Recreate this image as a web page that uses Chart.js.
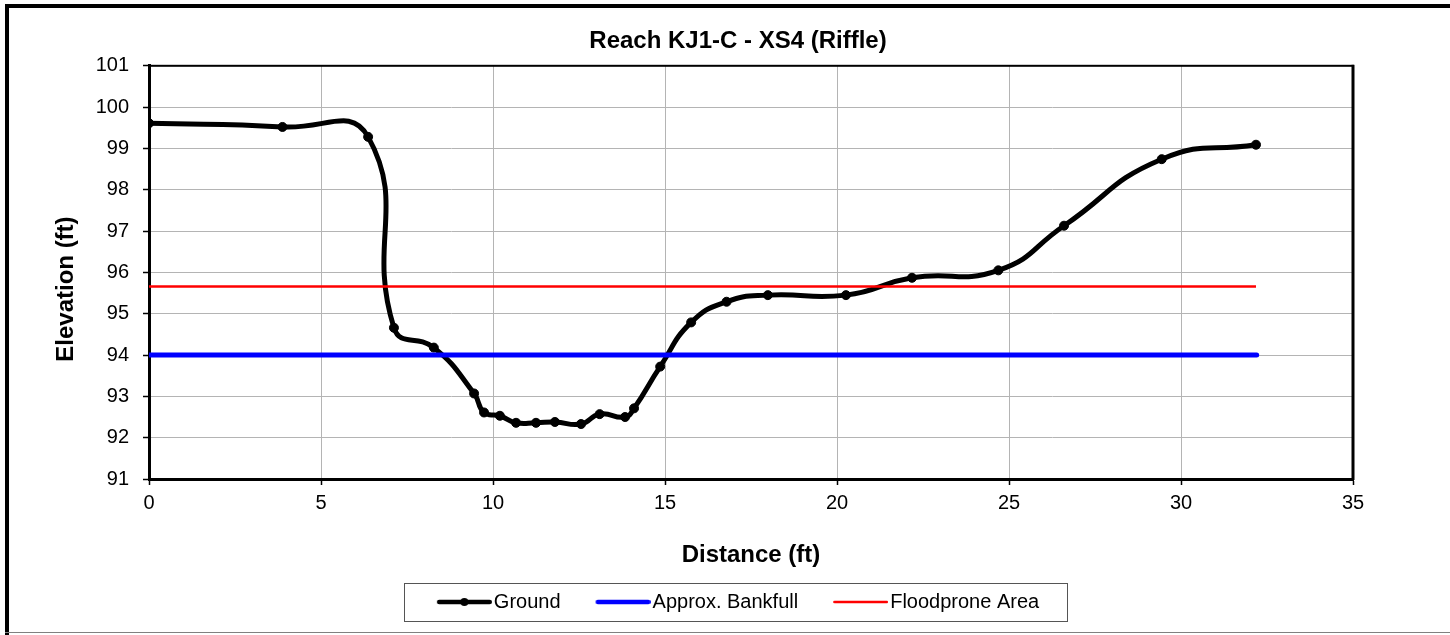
<!DOCTYPE html>
<html>
<head>
<meta charset="utf-8">
<script src="https://cdn.jsdelivr.net/npm/chart.js@4.4.1/dist/chart.umd.min.js"></script>
<style>
  html, body { margin: 0; padding: 0; background: #ffffff; }
  #wrap { width: 1450px; height: 635px; position: relative; }
</style>
</head>
<body>
<div id="wrap"><canvas id="c" width="1450" height="635"></canvas></div>
<script>
// ---- data ----
const distance  = [0, 3.88, 6.37, 7.12, 8.28, 9.45, 9.74, 10.2, 10.67, 11.25, 11.8, 12.56, 13.1, 13.84, 14.1, 14.86, 15.76, 16.79, 17.99, 20.26, 22.18, 24.69, 26.6, 29.44, 32.18];
const elevation = [99.61, 99.52, 99.28, 94.66, 94.18, 93.07, 92.61, 92.53, 92.36, 92.36, 92.38, 92.33, 92.57, 92.5, 92.71, 93.72, 94.79, 95.29, 95.45, 95.45, 95.87, 96.05, 97.13, 98.74, 99.09];
const bankfullX  = [0, 32.2];
const bankfullY  = [94.0, 94.0];
const floodX     = [0, 32.18];
const floodY     = [95.66, 95.66];
const seriesNames = ['Ground', 'Approx. Bankfull', 'Floodprone Area'];
const xTicks = {min: 0, max: 35, step: 5};
const yTicks = {min: 91, max: 101, step: 1};
const chartTitle = 'Reach KJ1-C - XS4 (Riffle)';
const xTitle = 'Distance (ft)';
const yTitle = 'Elevation (ft)';

const FONT = '"Liberation Sans", Arial, Helvetica, sans-serif';
Chart.defaults.font.family = FONT;
Chart.defaults.color = '#000';

const pts = (xs, ys) => xs.map((x, i) => ({x: x, y: ys[i]}));

// legend marker images
function makeIcon(color, lw, dot) {
  const W = 63, M = 55, H = 14;
  const c = document.createElement('canvas');
  c.width = W; c.height = H;
  const g = c.getContext('2d');
  g.strokeStyle = color; g.lineWidth = lw; g.lineCap = 'round';
  g.beginPath(); g.moveTo(W - M + lw / 2, H / 2); g.lineTo(W - lw / 2, H / 2); g.stroke();
  if (dot) {
    g.fillStyle = color;
    g.beginPath(); g.arc(W - M / 2, H / 2, 4, 0, Math.PI * 2); g.fill();
  }
  return c;
}
const icons = [makeIcon('#000000', 4.5, true), makeIcon('#0000ff', 4.5, false), makeIcon('#ff0000', 2.5, false)];

const decorPlugin = {
  id: 'decor',
  beforeDatasetsDraw(chart) {
    const {ctx, chartArea: a} = chart;
    ctx.save();
    ctx.fillStyle = '#000';
    ctx.fillRect(a.left - 1, a.top - 1, a.right - a.left + 2, 2);
    ctx.fillRect(a.right - 1.5, a.top - 1, 3, a.bottom - a.top + 2);
    ctx.restore();
  },
  afterDraw(chart) {
    const ctx = chart.ctx;
    const hb = chart.legend.legendHitBoxes;
    ctx.save();
    if (hb && hb.length) {
      const first = hb[0], last = hb[hb.length - 1];
      const cy = first.top + first.height / 2;
      const l = Math.round(first.left - 33) + 0.5;
      const r = Math.round(last.left + last.width + 28) + 0.5;
      ctx.strokeStyle = '#555555'; ctx.lineWidth = 1;
      ctx.strokeRect(l, Math.round(cy - 19) + 0.5, r - l, 38);
    }
    // outer frame
    ctx.fillStyle = '#000';
    ctx.fillRect(5, 4, 1445, 4);
    ctx.fillRect(5, 4, 4, 631);
    ctx.fillStyle = '#808080';
    ctx.fillRect(5, 632, 1445, 1);
    ctx.restore();
  }
};

const gridCommon = {color: '#b4b4b4', lineWidth: 1, tickLength: 6, tickColor: '#000', tickWidth: 1.5, drawTicks: true};

new Chart(document.getElementById('c'), {
  type: 'scatter',
  data: {
    datasets: [
      {
        label: seriesNames[0], data: pts(distance, elevation), showLine: true,
        borderColor: '#000', backgroundColor: '#000', borderWidth: 5,
        pointRadius: 4.5, pointHoverRadius: 4.5, pointBackgroundColor: '#000', pointBorderColor: '#000', pointBorderWidth: 1,
        tension: 0.5, order: 3
      },
      {
        label: seriesNames[1], data: pts(bankfullX, bankfullY), showLine: true,
        borderColor: '#0000ff', backgroundColor: '#0000ff', borderWidth: 5, borderCapStyle: 'round',
        pointRadius: 0, pointHoverRadius: 0, order: 2
      },
      {
        label: seriesNames[2], data: pts(floodX, floodY), showLine: true,
        borderColor: '#ff0000', backgroundColor: '#ff0000', borderWidth: 2.5,
        pointRadius: 0, pointHoverRadius: 0, order: 1
      }
    ]
  },
  options: {
    responsive: false,
    animation: false,
    events: [],
    layout: {padding: {left: 26, right: 0, top: 0, bottom: 13}},
    plugins: {
      tooltip: {enabled: false},
      title: {
        display: true, text: chartTitle, color: '#000',
        font: {family: FONT, size: 24, weight: 'bold', lineHeight: 1.2},
        padding: {top: 27, bottom: 10}
      },
      legend: {
        display: true, position: 'bottom', align: 'center',
        labels: {
          usePointStyle: true, pointStyleWidth: 47, padding: 35, color: '#000',
          font: {family: FONT, size: 20},
          sort: (a, b) => a.datasetIndex - b.datasetIndex,
          generateLabels(chart) {
            const items = Chart.defaults.plugins.legend.labels.generateLabels(chart);
            items.forEach(it => { it.pointStyle = icons[it.datasetIndex]; it.fontColor = '#000'; });
            return items;
          }
        }
      }
    },
    scales: {
      x: {
        type: 'linear', position: 'bottom', min: xTicks.min, max: xTicks.max,
        ticks: {stepSize: xTicks.step, padding: 6, color: '#000', font: {family: FONT, size: 20}},
        grid: gridCommon,
        border: {display: true, color: '#000', width: 3},
        title: {display: true, text: xTitle, color: '#000', font: {family: FONT, size: 24, weight: 'bold'}, padding: {top: 0, bottom: -13}},
        afterFit(s) { s.height = 78; }
      },
      y: {
        type: 'linear', position: 'left', min: yTicks.min, max: yTicks.max,
        ticks: {stepSize: yTicks.step, padding: 14, color: '#000', font: {family: FONT, size: 20}},
        grid: gridCommon,
        border: {display: true, color: '#000', width: 3},
        title: {display: true, text: yTitle + '     ', color: '#000', font: {family: FONT, size: 24, weight: 'bold'}, padding: {top: 26, bottom: 0}},
        afterFit(s) { s.width = 123; }
      },
      yr: {
        type: 'linear', position: 'right', display: true,
        grid: {display: false, drawTicks: false},
        ticks: {display: false},
        border: {display: false},
        afterFit(s) { s.width = 97; }
      }
    }
  },
  plugins: [decorPlugin]
});
</script>
</body>
</html>
